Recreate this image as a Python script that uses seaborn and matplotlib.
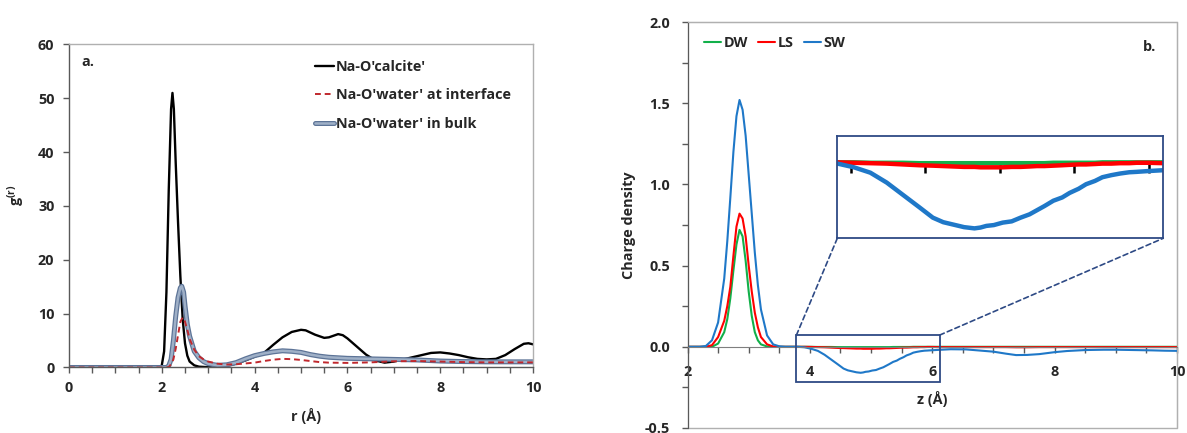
import matplotlib
matplotlib.use("Agg")
import matplotlib.pyplot as plt
import matplotlib.patheffects as pe
from matplotlib.patches import Rectangle, ConnectionPatch
from matplotlib.ticker import MultipleLocator, FormatStrFormatter
import seaborn as sns

# ---- panel a: radial distribution functions g(r) ----
r_calcite = [0, 1.9, 1.97, 2.0, 2.05, 2.1, 2.15, 2.2, 2.23, 2.26, 2.3, 2.35, 2.4, 2.45,
             2.5, 2.55, 2.6, 2.7, 2.8, 3.0, 3.2, 3.4, 3.6, 3.8, 4.0, 4.2, 4.4, 4.6, 4.8,
             5.0, 5.1, 5.3, 5.5, 5.6, 5.8, 5.9, 6.0, 6.2, 6.4, 6.6, 6.8, 7.0, 7.2, 7.4,
             7.6, 7.8, 8.0, 8.2, 8.4, 8.6, 8.8, 9.0, 9.2, 9.4, 9.6, 9.8, 9.9, 10.0]
g_calcite = [0, 0, 0.05, 0.4, 3, 14, 33, 48, 51, 48, 38, 27, 17, 9,
             4.5, 2.2, 1.1, 0.4, 0.15, 0.05, 0.1, 0.3, 0.7, 1.3, 2.0, 2.7, 4.2, 5.6, 6.6,
             7.0, 6.9, 6.1, 5.5, 5.6, 6.2, 6.0, 5.4, 3.9, 2.4, 1.3, 0.9, 1.1, 1.5, 1.9,
             2.3, 2.7, 2.8, 2.6, 2.3, 1.9, 1.6, 1.5, 1.6, 2.3, 3.4, 4.4, 4.5, 4.3]

r_interface = [0, 2.1, 2.15, 2.2, 2.25, 2.3, 2.35, 2.4, 2.45, 2.5, 2.55, 2.6, 2.7, 2.8,
               2.9, 3.0, 3.2, 3.4, 3.6, 3.8, 4.0, 4.2, 4.4, 4.6, 4.8, 5.0, 5.2, 5.4, 5.6,
               6.0, 6.5, 7.0, 7.5, 8.0, 8.5, 9.0, 10.0]
g_interface = [0, 0, 0.1, 0.6, 1.5, 3.5, 6, 8.5, 9.3, 8.5, 7, 5.3, 3.3, 2.1,
               1.5, 1.1, 0.7, 0.55, 0.6, 0.75, 0.9, 1.2, 1.45, 1.6, 1.55, 1.4, 1.2, 1.0, 0.9,
               0.85, 0.95, 1.15, 1.2, 1.1, 1.0, 0.95, 0.95]

r_bulk = [0, 2.1, 2.15, 2.2, 2.25, 2.3, 2.35, 2.4, 2.43, 2.47, 2.5, 2.55, 2.6, 2.7, 2.8,
          2.9, 3.0, 3.2, 3.4, 3.6, 3.8, 4.0, 4.2, 4.4, 4.6, 4.8, 5.0, 5.2, 5.4, 5.6, 5.8,
          6.0, 6.5, 7.0, 7.5, 8.0, 8.5, 9.0, 10.0]
g_bulk = [0, 0, 0.3, 1.5, 5, 9.5, 13, 14.8, 15.1, 14, 11.5, 8, 5.8, 3.0, 1.8,
          1.1, 0.7, 0.4, 0.5, 0.9, 1.6, 2.2, 2.6, 2.9, 3.1, 3.0, 2.8, 2.4, 2.1, 1.9, 1.8,
          1.7, 1.6, 1.5, 1.4, 1.2, 1.1, 1.05, 1.05]

# ---- panel b: charge density profiles ----
z = [2.0, 2.2, 2.3, 2.4, 2.5, 2.6, 2.65, 2.7, 2.75, 2.8, 2.85, 2.9, 2.95, 3.0, 3.05,
     3.1, 3.15, 3.2, 3.3, 3.4, 3.5, 3.6, 3.8,
     3.91, 4.02, 4.13, 4.24, 4.35, 4.46, 4.55, 4.62, 4.69, 4.76, 4.83, 4.87, 4.91, 4.96,
     5.02, 5.08, 5.14, 5.2, 5.25, 5.3, 5.36, 5.42, 5.47, 5.53, 5.58, 5.64, 5.69, 5.75,
     5.81, 5.87, 5.92, 6.0, 6.1,
     6.3, 6.55, 7.0, 7.2, 7.37, 7.55, 7.75, 8.0, 8.2, 8.5, 8.8, 9.0, 9.3, 9.6, 9.8, 10.0]
rho_dw = [0, 0, 0, 0, 0.02, 0.09, 0.17, 0.3, 0.47, 0.63, 0.72, 0.68, 0.53, 0.34, 0.19,
          0.09, 0.04, 0.015, 0.002, 0, 0, 0, 0,
          0, 0, -0.001, -0.001, -0.001, -0.002, -0.002, -0.002, -0.002, -0.002, -0.002,
          -0.002, -0.002, -0.002, -0.002, -0.002, -0.002, -0.002, -0.002, -0.002, -0.001,
          -0.001, -0.001, -0.001, -0.001, -0.001, 0, 0, 0, 0, 0, 0, 0,
          0, 0, 0, 0, 0, 0, 0, 0, 0, 0, 0, 0, 0, 0, 0, 0]
rho_ls = [0, 0, 0, 0.01, 0.06, 0.16, 0.25, 0.37, 0.56, 0.74, 0.82, 0.79, 0.68, 0.5, 0.34,
          0.21, 0.12, 0.06, 0.015, 0.002, 0, 0, 0,
          0, -0.001, -0.002, -0.003, -0.005, -0.007, -0.008, -0.009, -0.010, -0.011,
          -0.011, -0.012, -0.012, -0.012, -0.012, -0.011, -0.011, -0.010, -0.009, -0.009,
          -0.008, -0.007, -0.006, -0.005, -0.005, -0.004, -0.003, -0.003, -0.002, -0.002,
          -0.001, -0.001, -0.002,
          -0.002, -0.002, -0.002, -0.002, -0.003, -0.003, -0.002, -0.002, -0.002, -0.002,
          -0.002, -0.002, -0.002, -0.002, -0.002, -0.002]
rho_sw = [0, 0, 0.005, 0.04, 0.15, 0.42, 0.65, 0.92, 1.2, 1.42, 1.52, 1.46, 1.3, 1.06, 0.82,
          0.58, 0.38, 0.23, 0.07, 0.015, 0.003, 0, 0,
          -0.003, -0.012, -0.025, -0.049, -0.079, -0.109, -0.134, -0.145, -0.151, -0.157,
          -0.160, -0.158, -0.154, -0.152, -0.146, -0.143, -0.134, -0.126, -0.116, -0.106,
          -0.093, -0.085, -0.074, -0.064, -0.053, -0.045, -0.036, -0.031, -0.027, -0.024,
          -0.023, -0.021, -0.019,
          -0.015, -0.016, -0.03, -0.042, -0.051, -0.05, -0.045, -0.033, -0.026, -0.02,
          -0.018, -0.018, -0.02, -0.022, -0.024, -0.025]

# zoomed window on the negative trough
zoom_box = (3.78, 6.12, -0.215, 0.072)
inset_xlim = (3.908, 6.099)
inset_ylim = (-0.184, 0.064)
inset_ticks = [4.0, 4.5, 5.0, 5.5, 6.0]

C_DW, C_LS, C_SW = "#12b04a", "#ff0000", "#1f78c8"
NAVY = "#2e4a85"
DARK, LIGHT = "#595959", "#b0b0b0"

sns.set_style("white")
plt.rcParams["font.family"] = ["Open Sans", "DejaVu Sans"]
plt.rcParams["font.weight"] = "bold"
plt.rcParams["axes.labelweight"] = "bold"
plt.rcParams["mathtext.fontset"] = "custom"
plt.rcParams["mathtext.bf"] = "Open Sans:bold"
plt.rcParams["mathtext.rm"] = "Open Sans:bold"
FS = 10.4

fig = plt.figure(figsize=(11.87, 4.33), dpi=100)
ax1 = fig.add_axes([0.0581, 0.1513, 0.391, 0.746])
ax2 = fig.add_axes([0.5792, 0.01155, 0.4124, 0.9376])

# ---------- panel a ----------
sns.lineplot(x=r_calcite, y=g_calcite, ax=ax1, color="black", lw=1.7,
             label="Na-O'calcite'")
sns.lineplot(x=r_bulk, y=g_bulk, ax=ax1, color="#9fb0c7", lw=1.8,
             path_effects=[pe.Stroke(linewidth=3.6, foreground="#5d7497"), pe.Normal()],
             label="Na-O'water' in bulk")
sns.lineplot(x=r_interface, y=g_interface, ax=ax1, color="#c0282d", lw=1.4,
             linestyle=(0, (3, 2)), label="Na-O'water' at interface")

ax1.set_xlim(0, 10)
ax1.set_ylim(0, 60)
ax1.xaxis.set_major_locator(MultipleLocator(2))
ax1.xaxis.set_minor_locator(MultipleLocator(0.5))
ax1.yaxis.set_major_locator(MultipleLocator(10))
ax1.tick_params(axis="both", which="both", direction="out", length=4, width=1,
                color=DARK, labelsize=FS)
ax1.tick_params(axis="x", which="both", pad=5.5, bottom=True)
ax1.tick_params(axis="y", which="both", pad=6.5, left=True)
for side in ("left", "bottom"):
    ax1.spines[side].set_color(DARK)
    ax1.spines[side].set_linewidth(1.0)
for side in ("top", "right"):
    ax1.spines[side].set_color(LIGHT)
    ax1.spines[side].set_linewidth(1.0)

handles, labels = ax1.get_legend_handles_labels()
order = ["Na-O'calcite'", "Na-O'water' at interface", "Na-O'water' in bulk"]
hmap = dict(zip(labels, handles))
ax1.legend([hmap[k] for k in order], order, loc="upper left",
           bbox_to_anchor=(0.53, 0.952), frameon=False, fontsize=FS,
           handlelength=1.3, handletextpad=0.15, labelspacing=1.0,
           borderpad=0, borderaxespad=0)

ax1.text(0.026, 0.946, "a.", transform=ax1.transAxes, ha="left", va="center",
         fontsize=FS, fontweight="bold")
ax1.set_xlabel("r (Å)", fontsize=FS)
ax1.set_ylabel(r"g$^{\mathbf{(r)}}$", fontsize=FS)
ax1.xaxis.set_label_coords(0.51, -0.125)
ax1.yaxis.set_label_coords(-0.09, 0.534)

# ---------- panel b ----------
sns.lineplot(x=z, y=rho_dw, ax=ax2, color=C_DW, lw=1.5, label="DW")
sns.lineplot(x=z, y=rho_ls, ax=ax2, color=C_LS, lw=1.5, label="LS")
sns.lineplot(x=z, y=rho_sw, ax=ax2, color=C_SW, lw=1.5, label="SW")

ax2.set_xlim(2, 10)
ax2.set_ylim(-0.5, 2.0)
ax2.xaxis.set_major_locator(MultipleLocator(2))
ax2.xaxis.set_minor_locator(MultipleLocator(0.5))
ax2.yaxis.set_major_locator(MultipleLocator(0.5))
ax2.yaxis.set_minor_locator(MultipleLocator(0.25))
ax2.yaxis.set_major_formatter(FormatStrFormatter("%.1f"))
ax2.xaxis.set_major_formatter(FormatStrFormatter("%d"))
ax2.tick_params(axis="both", which="both", direction="out", length=4.5, width=1,
                color=DARK, labelsize=FS)
ax2.tick_params(axis="x", which="both", pad=8.5, bottom=True)
ax2.tick_params(axis="y", which="both", pad=8.0, left=True)
ax2.spines["bottom"].set_position(("data", 0))
ax2.spines["bottom"].set_color("#7f7f7f")
ax2.spines["left"].set_color(DARK)
for side in ("top", "right"):
    ax2.spines[side].set_color(LIGHT)
ax2.add_patch(Rectangle((0, 0), 1, 1, transform=ax2.transAxes, fill=False,
                        edgecolor=LIGHT, lw=1.0, clip_on=False, zorder=0.5))

ax2.legend(loc="upper left", bbox_to_anchor=(0.034, 0.965), ncol=3, frameon=False,
           fontsize=FS, handlelength=1.2, handletextpad=0.15, columnspacing=0.7,
           borderpad=0, borderaxespad=0)
ax2.text(0.943, 0.938, "b.", transform=ax2.transAxes, ha="center", va="center",
         fontsize=FS, fontweight="bold")
ax2.set_xlabel("z (Å)", fontsize=FS)
ax2.set_ylabel("Charge density", fontsize=FS)
ax2.xaxis.set_label_coords(0.5, 0.092)
ax2.yaxis.set_label_coords(-0.105, 0.5)

x0, x1, y0, y1 = zoom_box
ax2.add_patch(Rectangle((x0, y0), x1 - x0, y1 - y0, fill=False, edgecolor=NAVY,
                        lw=1.3, zorder=6))

# ---------- inset ----------
ins = fig.add_axes([0.7054, 0.4497, 0.2746, 0.2363])
sns.lineplot(x=z, y=rho_dw, ax=ins, color=C_DW, lw=3.2, legend=False)
sns.lineplot(x=z, y=rho_ls, ax=ins, color=C_LS, lw=3.2, legend=False)
sns.lineplot(x=z, y=rho_sw, ax=ins, color=C_SW, lw=3.2, legend=False)
ins.set_xlim(*inset_xlim)
ins.set_ylim(*inset_ylim)
ins.set_xticks([])
ins.set_yticks([])
ins.set_xlabel("")
ins.set_ylabel("")
for s in ins.spines.values():
    s.set_color(NAVY)
    s.set_linewidth(1.3)

zero_frac = (0 - inset_ylim[0]) / (inset_ylim[1] - inset_ylim[0])
sec = ins.secondary_xaxis(zero_frac)
sec.set_xticks(inset_ticks)
sec.tick_params(axis="x", direction="in", length=8, width=1.8, color="black",
                labeltop=False, labelbottom=False)
for s in sec.spines.values():
    s.set_visible(False)

for xa, xb in ((x0, 0), (x1, 1)):
    con = ConnectionPatch(xyA=(xa, y1), coordsA=ax2.transData,
                          xyB=(xb, 0), coordsB=ins.transAxes,
                          color=NAVY, lw=1.2, linestyle=(0, (3, 2)))
    fig.add_artist(con)

fig.savefig("out.png", dpi=100)
